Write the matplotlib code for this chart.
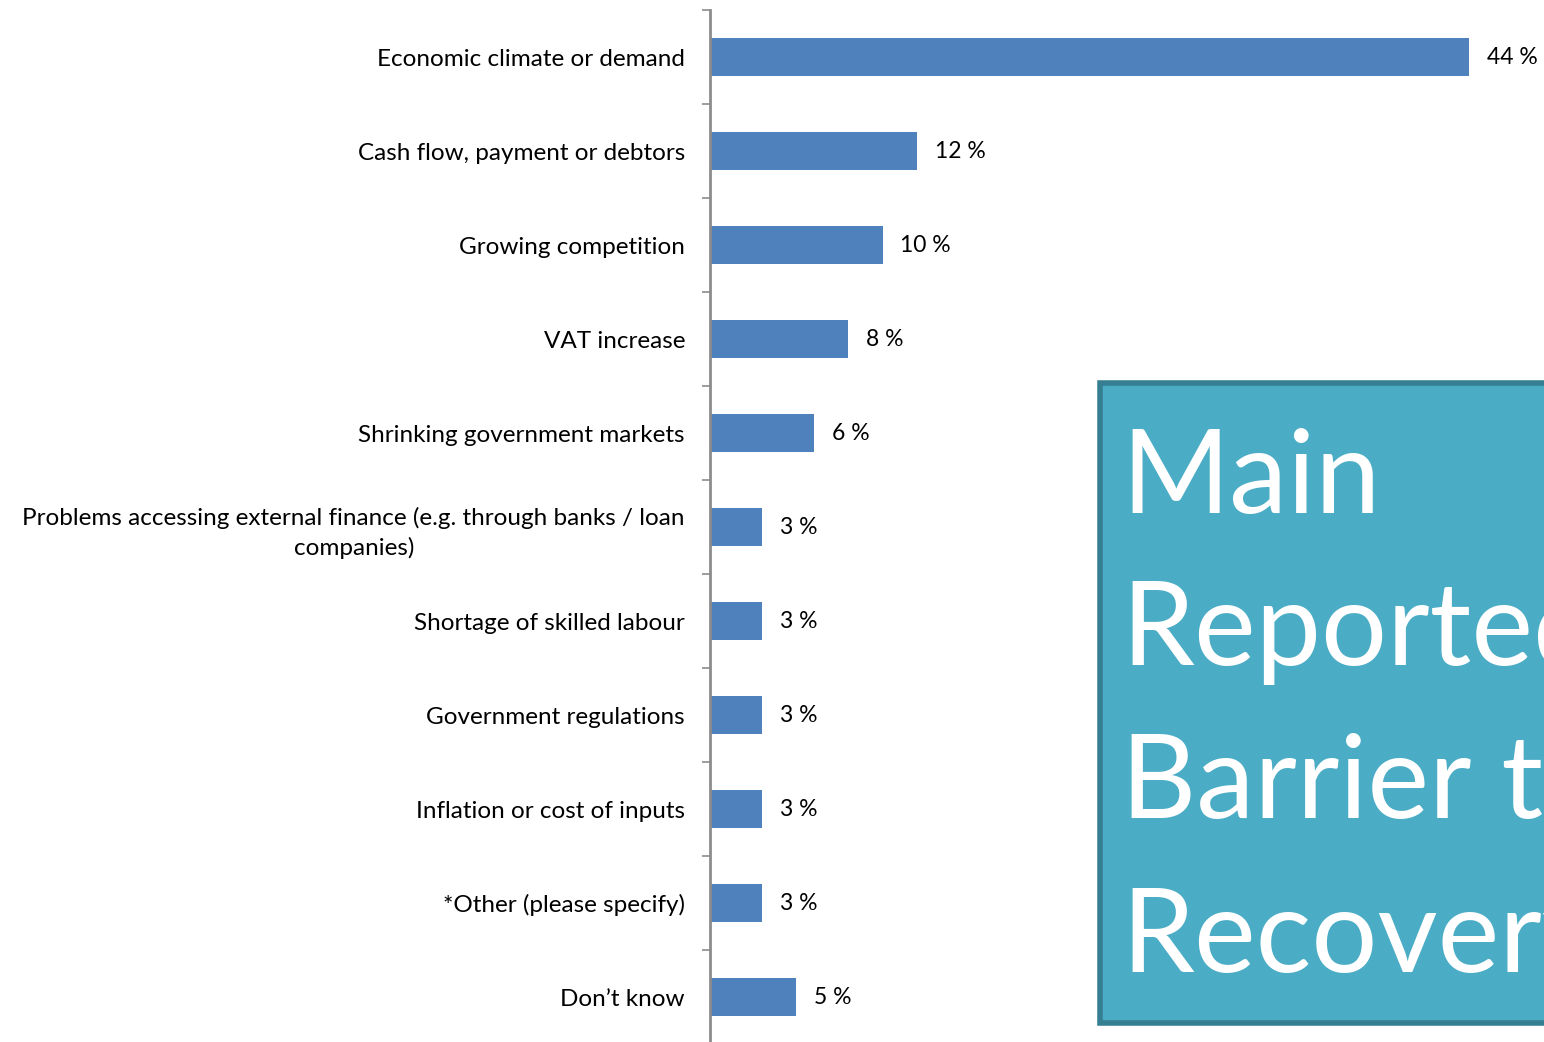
import matplotlib
matplotlib.use("Agg")
import matplotlib.pyplot as plt
from matplotlib.patches import Rectangle

plt.rcParams['font.family'] = ['Lato', 'DejaVu Sans']

categories = [
    "Economic climate or demand",
    "Cash flow, payment or debtors",
    "Growing competition",
    "VAT increase",
    "Shrinking government markets",
    "Problems accessing external finance (e.g. through banks / loan\ncompanies)",
    "Shortage of skilled labour",
    "Government regulations",
    "Inflation or cost of inputs",
    "*Other (please specify)",
    "Don\u2019t know",
]
values = [44, 12, 10, 8, 6, 3, 3, 3, 3, 3, 5]
value_labels = ["44 %", "12 %", "10 %", "8 %", "6 %", "3 %", "3 %", "3 %", "3 %", "3 %", "5 %"]
title_lines = ["Main", "Reported", "Barrier to", "Recovery"]

W, H = 1544, 1042
fig = plt.figure(figsize=(W / 100, H / 100), dpi=100)
fig.patch.set_facecolor("white")

ax_left = 710 / W
ax_bottom = (H - 1044) / H
ax_top = (H - 10) / H
ax = fig.add_axes([ax_left, ax_bottom, 1 - ax_left, ax_top - ax_bottom])

n = len(categories)
ypos = list(range(n))
ax.barh(ypos, values, height=0.4, color="#4F81BD", zorder=2)
ax.set_ylim(n - 0.5, -0.5)
ax.set_xlim(0, (W - 710) / 17.25)

for y, v, lab in zip(ypos, values, value_labels):
    ax.annotate(lab, xy=(v, y), xytext=(18, 0), textcoords="offset pixels",
                ha="left", va="center", fontsize=16.5, color="black")

# category boundary ticks on the value axis
ax.set_yticks([i - 0.5 for i in range(n + 1)], minor=False)
ax.set_yticklabels([])
ax.tick_params(axis="y", which="major", direction="out", length=6, width=1.2, color="#8C8C8C")
ax.set_yticks(ypos, minor=True)
ax.set_yticklabels(categories, minor=True, fontsize=17.5, multialignment="center",
                   linespacing=1.45)
ax.tick_params(axis="y", which="minor", length=0, pad=18)

ax.set_xticks([])
for side in ["top", "right", "bottom"]:
    ax.spines[side].set_visible(False)
ax.spines["left"].set_color("#8C8C8C")
ax.spines["left"].set_linewidth(2)
ax.set_facecolor("none")

# highlighted title panel
box = Rectangle((1100 / W, (H - 1023) / H), (W + 20 - 1100) / W, (1023 - 383) / H,
                transform=fig.transFigure, facecolor="#4BACC6", edgecolor="#367F92",
                linewidth=4, zorder=5)
fig.patches.append(box)

baselines = [513, 665, 818, 972]
for line, b in zip(title_lines, baselines):
    fig.text(1121 / W, (H - b) / H, line, fontsize=84, color="white",
             ha="left", va="baseline", zorder=6)

fig.savefig("out.png", dpi=100, facecolor="white")
